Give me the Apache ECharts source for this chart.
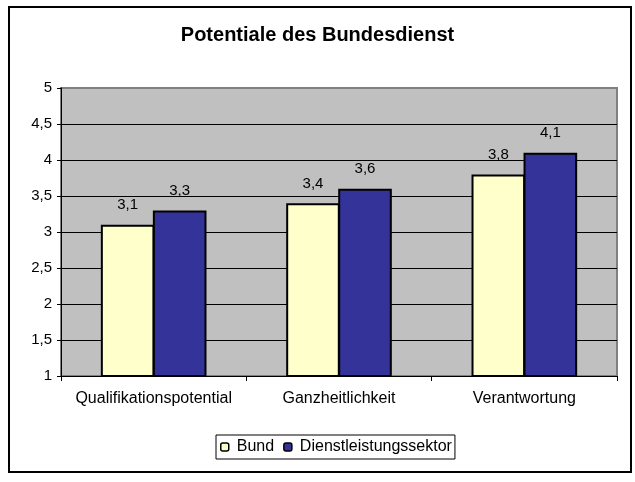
<!DOCTYPE html>
<html>
<head>
<meta charset="utf-8">
<script src="https://cdn.jsdelivr.net/npm/echarts@6/dist/echarts.min.js"></script>
<style>
html,body{margin:0;padding:0;background:#fff;}
#chart{width:635px;height:482px;}
</style>
</head>
<body>
<div id="chart"></div>
<script>
const titleText = 'Potentiale des Bundesdienst';
const categories = ['Qualifikationspotential', 'Ganzheitlichkeit', 'Verantwortung'];
const seriesNames = ['Bund', 'Dienstleistungssektor'];
const bundValues = [3.1, 3.4, 3.8];
const dienstValues = [3.3, 3.6, 4.1];
const yMin = 1, yMax = 5, yStep = 0.5;

const FONT = 'Arial, "Liberation Sans", sans-serif';
const fmt = v => String(v).replace('.', ',');

const chart = echarts.init(document.getElementById('chart'), null, {renderer: 'canvas'});
chart.setOption({
  animation: false,
  backgroundColor: '#ffffff',
  title: {
    text: titleText,
    left: 'center',
    top: 20,
    textStyle: {fontFamily: FONT, fontSize: 20, fontWeight: 'bold', color: '#000'}
  },
  graphic: [{
    type: 'rect',
    shape: {x: 9, y: 7, width: 622, height: 465},
    style: {fill: 'none', stroke: '#000', lineWidth: 2},
    silent: true
  }],
  grid: {
    left: 61, right: 18, top: 88, bottom: 106,
    show: true,
    backgroundColor: '#C0C0C0',
    borderColor: '#808080',
    borderWidth: 2
  },
  legend: {
    data: seriesNames,
    bottom: 23,
    left: 216,
    itemWidth: 8,
    itemHeight: 8,
    itemGap: 9,
    padding: [4, 3, 4, 4],
    borderColor: '#000',
    borderWidth: 1,
    borderRadius: 0,
    backgroundColor: '#fff',
    textStyle: {fontFamily: FONT, fontSize: 16, color: '#000', padding: [0, 0, 0, 3]},
    itemStyle: {borderColor: '#000', borderWidth: 1.5}
  },
  xAxis: {
    type: 'category',
    data: categories,
    axisLine: {lineStyle: {color: '#000', width: 1}},
    axisTick: {show: true, length: 5, lineStyle: {color: '#000'}},
    axisLabel: {fontFamily: FONT, fontSize: 16, color: '#000', margin: 15, interval: 0, hideOverlap: false}
  },
  yAxis: {
    type: 'value',
    min: yMin, max: yMax, interval: yStep,
    axisLine: {show: true, lineStyle: {color: '#000', width: 1}},
    axisTick: {show: true, length: 4, lineStyle: {color: '#000'}},
    axisLabel: {fontFamily: FONT, fontSize: 15, color: '#000', margin: 9, formatter: fmt},
    splitLine: {show: true, showMinLine: false, showMaxLine: false, lineStyle: {color: '#000', width: 1}}
  },
  series: [
    {
      name: seriesNames[0], type: 'bar', data: bundValues,
      barGap: '-3%', barCategoryGap: '43%',
      itemStyle: {color: '#FFFFCC', borderColor: '#000', borderWidth: 2},
      label: {show: true, position: 'top', distance: 12, fontFamily: FONT, fontSize: 15, color: '#000',
        formatter: p => fmt(p.value)}
    },
    {
      name: seriesNames[1], type: 'bar', data: dienstValues,
      barGap: '-3%', barCategoryGap: '43%',
      itemStyle: {color: '#333399', borderColor: '#000', borderWidth: 2},
      label: {show: true, position: 'top', distance: 12, fontFamily: FONT, fontSize: 15, color: '#000',
        formatter: p => fmt(p.value)}
    }
  ]
});
</script>
</body>
</html>
